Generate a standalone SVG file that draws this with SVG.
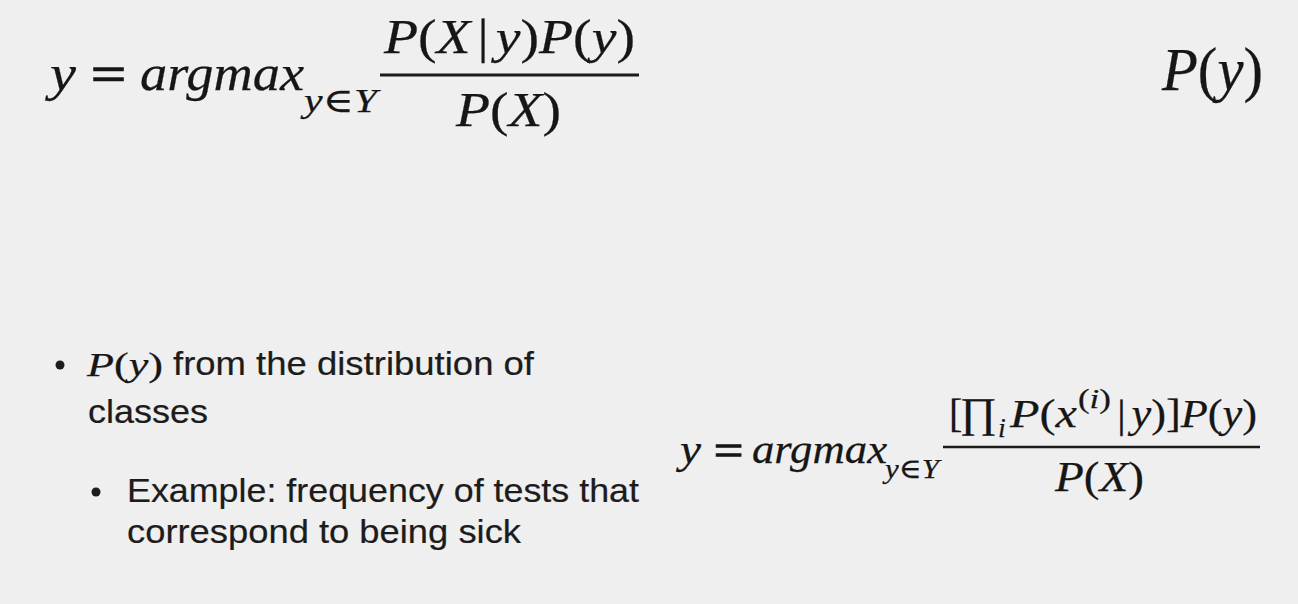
<svg xmlns="http://www.w3.org/2000/svg" width="1298" height="604" viewBox="0 0 1298 604">
<style>
.m{font-family:"Liberation Serif","DejaVu Serif",serif;font-style:italic;fill:#161616;stroke:#161616;stroke-width:0.25}
.r{font-style:normal}
.eq{stroke-width:1.4}
.s{font-family:"Liberation Sans",Arial,sans-serif;fill:#1c1c1c;stroke:#1c1c1c;stroke-width:0.2}
.bar{stroke:#1a1a1a;fill:none}
</style>
<rect width="1298" height="604" fill="#efefef"/>
<g id="formula-top">
<text class="m" x="50" y="90" font-size="50" textLength="26" lengthAdjust="spacingAndGlyphs">y</text>
<text class="m r eq" x="91" y="91" font-size="50" textLength="35" lengthAdjust="spacingAndGlyphs">=</text>
<text class="m" x="140" y="90" font-size="50" textLength="164" lengthAdjust="spacingAndGlyphs">argmax</text>
<text class="m" x="304" y="112" font-size="34" textLength="73" lengthAdjust="spacingAndGlyphs">y<tspan class="r">∈</tspan>Y</text>
<text class="m" x="384" y="53" font-size="48" textLength="251" lengthAdjust="spacingAndGlyphs">P<tspan class="r">(</tspan>X<tspan class="r" dx="6">|</tspan><tspan dx="6">y</tspan><tspan class="r">)</tspan>P<tspan class="r">(</tspan>y<tspan class="r">)</tspan></text>
<line class="bar" x1="380" y1="75" x2="639" y2="75" stroke-width="2.8"/>
<text class="m" x="456" y="126" font-size="48" textLength="105" lengthAdjust="spacingAndGlyphs">P<tspan class="r">(</tspan>X<tspan class="r">)</tspan></text>
</g>
<g id="prior-top-right">
<text class="m" x="1162" y="90" font-size="62" textLength="101" lengthAdjust="spacingAndGlyphs">P<tspan class="r">(</tspan>y<tspan class="r">)</tspan></text>
</g>
<g id="bullets">
<circle cx="60" cy="365" r="4.5" fill="#1c1c1c"/>
<text class="m" x="87" y="376" font-size="34" textLength="76" lengthAdjust="spacingAndGlyphs">P<tspan class="r">(</tspan>y<tspan class="r">)</tspan></text>
<text class="s" x="173" y="375" font-size="33" textLength="361" lengthAdjust="spacingAndGlyphs">from the distribution of</text>
<text class="s" x="88" y="423" font-size="33" textLength="120" lengthAdjust="spacingAndGlyphs">classes</text>
<circle cx="96" cy="492" r="4.5" fill="#1c1c1c"/>
<text class="s" x="127" y="502" font-size="33" textLength="512" lengthAdjust="spacingAndGlyphs">Example: frequency of tests that</text>
<text class="s" x="127" y="543" font-size="33" textLength="394" lengthAdjust="spacingAndGlyphs">correspond to being sick</text>
</g>
<g id="formula-bottom">
<text class="m" x="680" y="463" font-size="42" textLength="21" lengthAdjust="spacingAndGlyphs">y</text>
<text class="m r eq" x="714" y="464" font-size="42" textLength="29" lengthAdjust="spacingAndGlyphs">=</text>
<text class="m" x="752" y="463" font-size="42" textLength="135" lengthAdjust="spacingAndGlyphs">argmax</text>
<text class="m" x="885" y="478" font-size="28" textLength="54" lengthAdjust="spacingAndGlyphs">y<tspan class="r">∈</tspan>Y</text>
<text class="m r" x="949" y="427" font-size="40">[</text>
<text class="m r" x="960" y="427" font-size="42" textLength="37" lengthAdjust="spacingAndGlyphs">∏</text>
<text class="m" x="998" y="437" font-size="28">i</text>
<text class="m" x="1010" y="427" font-size="40" textLength="67" lengthAdjust="spacingAndGlyphs">P<tspan class="r">(</tspan>x</text>
<text class="m" x="1078" y="408" font-size="27" textLength="33" lengthAdjust="spacingAndGlyphs"><tspan class="r">(</tspan>i<tspan class="r">)</tspan></text>
<text class="m" x="1117" y="427" font-size="40" textLength="140" lengthAdjust="spacingAndGlyphs"><tspan class="r">|</tspan><tspan dx="5">y</tspan><tspan class="r">)]</tspan>P<tspan class="r">(</tspan>y<tspan class="r">)</tspan></text>
<line class="bar" x1="943" y1="447" x2="1260" y2="447" stroke-width="2.4"/>
<text class="m" x="1055" y="491" font-size="42" textLength="89" lengthAdjust="spacingAndGlyphs">P<tspan class="r">(</tspan>X<tspan class="r">)</tspan></text>
</g>
</svg>
